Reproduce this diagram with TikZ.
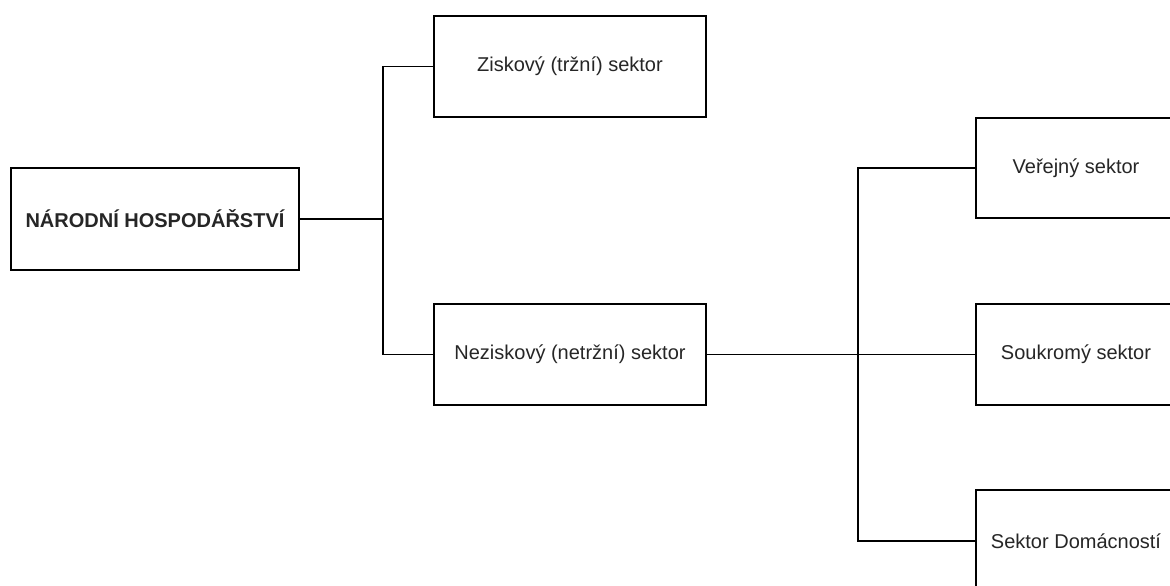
\documentclass[tikz,border=0pt]{standalone}
\usepackage{fontspec}
\setmainfont{Liberation Sans}
\begin{document}
\begin{tikzpicture}[x=1pt,y=-1pt,
  box/.style={draw=black,line width=1.3pt,fill=white,inner sep=0pt,
    font=\fontsize{20}{24}\selectfont,text=black!85},
  conn/.style={draw=black,line width=1.3pt}]
\useasboundingbox (0,0) rectangle (1170,586);
\clip (0,0) rectangle (1170,586);
\node[box,minimum width=288pt,minimum height=102pt,font=\fontsize{20}{24}\selectfont\bfseries] (nh) at (155,219) {NÁRODNÍ HOSPODÁŘSTVÍ};
\node[box,minimum width=272pt,minimum height=101pt] (z) at (570,66.5) {Ziskový (tržní) sektor};
\node[box,minimum width=272pt,minimum height=101pt] (n) at (570,354.5) {Neziskový (netržní) sektor};
\node[box,minimum width=200pt,minimum height=100pt] (v) at (1076,168) {Veřejný sektor};
\node[box,minimum width=200pt,minimum height=101pt] (s) at (1076,354.5) {Soukromý sektor};
\node[box,minimum width=200pt,minimum height=102pt] (d) at (1076,541) {Sektor Domácností};
\coordinate (j1) at (383,219);
\coordinate (j2) at (858,354.5);
\draw[conn] (nh.east) -- (j1);
\draw[conn] (j1) |- (z.west);
\draw[conn] (j1) |- (n.west);
\draw[conn] (n.east) -- (s.west);
\draw[conn] (j2) |- (v.west);
\draw[conn] (j2) |- (d.west);
\end{tikzpicture}
\end{document}
